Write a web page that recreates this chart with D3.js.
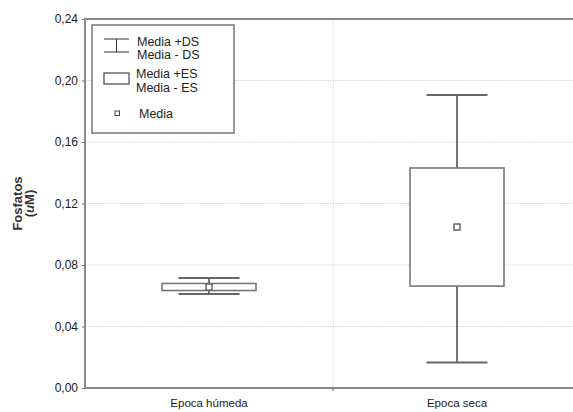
<!DOCTYPE html>
<html>
<head>
<meta charset="utf-8">
<script src="https://cdn.jsdelivr.net/npm/d3@7"></script>
<style>
  body { margin: 0; background: #fff; }
  svg { display: block; font-family: "Liberation Sans", Arial, sans-serif; }
</style>
</head>
<body>
<div id="chart"></div>
<script>
// data
const categories = ['Epoca húmeda', 'Epoca seca'];
const means = [0.0657, 0.1047];
const stdErr = [0.0023, 0.0384];
const stdDevLow = [0.0046, 0.0881];
const stdDevHigh = [0.0058, 0.0859];
const yTicks = [0, 0.04, 0.08, 0.12, 0.16, 0.20, 0.24];

const W = 573, H = 412;
// plot area runs past the right edge of the window, as in the source image
const margin = { top: 19, right: -8, bottom: 24, left: 85 };
const innerW = W - margin.left - margin.right;
const innerH = H - margin.top - margin.bottom;

const svg = d3.select('#chart').append('svg')
    .attr('width', W)
    .attr('height', H);

const g = svg.append('g')
    .attr('transform', `translate(${margin.left},${margin.top})`);

const x = d3.scaleBand().domain(categories).range([0, innerW]);
const y = d3.scaleLinear().domain([0, 0.24]).range([innerH, 0]);

const fmt = d => d3.format('.2f')(d).replace('.', ',');

// grid
g.append('g')
    .selectAll('line')
    .data(yTicks.slice(1, -1))
    .join('line')
    .attr('x1', 0).attr('x2', innerW)
    .attr('y1', d => y(d)).attr('y2', d => y(d))
    .attr('stroke', '#d6d6d6')
    .attr('stroke-dasharray', '1.5,1');

g.append('line')
    .attr('x1', x.bandwidth()).attr('x2', x.bandwidth())
    .attr('y1', 0).attr('y2', innerH)
    .attr('stroke', '#d6d6d6')
    .attr('stroke-dasharray', '1.5,1');

// frame
g.append('rect')
    .attr('x', 0).attr('y', 0)
    .attr('width', innerW).attr('height', innerH)
    .attr('fill', 'none')
    .attr('stroke', '#8a8a8a')
    .attr('stroke-width', 2);

// y axis
const yAxis = g.append('g')
    .call(d3.axisLeft(y).tickValues(yTicks).tickFormat(fmt).tickSize(3).tickPadding(4));
yAxis.select('.domain').remove();
yAxis.selectAll('line').attr('stroke', '#777');
yAxis.selectAll('text')
    .attr('font-size', 12)
    .attr('fill', '#1a1a1a')
    .attr('font-family', '"Liberation Sans", Arial, sans-serif');

// x axis
const xAxis = g.append('g')
    .attr('transform', `translate(0,${innerH})`)
    .call(d3.axisBottom(x).tickSize(0).tickPadding(11));
xAxis.select('.domain').remove();
xAxis.selectAll('text')
    .attr('font-size', 11.5)
    .attr('fill', '#1a1a1a')
    .attr('font-family', '"Liberation Sans", Arial, sans-serif');
g.append('line')
    .attr('x1', x.bandwidth()).attr('x2', x.bandwidth())
    .attr('y1', innerH).attr('y2', innerH + 3)
    .attr('stroke', '#555');

// y title
const yTitle = svg.append('text')
    .attr('transform', `translate(22,${margin.top + innerH / 2}) rotate(-90)`)
    .attr('text-anchor', 'middle')
    .attr('font-size', 13)
    .attr('font-weight', 'bold')
    .attr('fill', '#333');
yTitle.append('tspan').attr('x', 0).attr('dy', 0).text('Fosfatos');
const t2 = yTitle.append('tspan').attr('x', 0).attr('dy', 12);
t2.append('tspan').text('(');
t2.append('tspan').attr('font-style', 'italic').text('u');
t2.append('tspan').text('M)');

// boxes
const boxW = 94, capW = 61, markS = 6;
const data = categories.map((c, i) => ({
    c, m: means[i], es: stdErr[i], lo: stdDevLow[i], hi: stdDevHigh[i]
}));

const items = g.selectAll('.item').data(data).join('g')
    .attr('class', 'item')
    .attr('transform', d => `translate(${x(d.c) + x.bandwidth() / 2},0)`);

items.append('line')
    .attr('x1', 0).attr('x2', 0)
    .attr('y1', d => y(d.m + d.hi)).attr('y2', d => y(d.m - d.lo))
    .attr('stroke', '#444').attr('stroke-width', 1.5);

items.append('line')
    .attr('x1', -capW / 2).attr('x2', capW / 2)
    .attr('y1', d => y(d.m + d.hi)).attr('y2', d => y(d.m + d.hi))
    .attr('stroke', '#666').attr('stroke-width', 2);
items.append('line')
    .attr('x1', -capW / 2).attr('x2', capW / 2)
    .attr('y1', d => y(d.m - d.lo)).attr('y2', d => y(d.m - d.lo))
    .attr('stroke', '#666').attr('stroke-width', 2);

items.append('rect')
    .attr('x', -boxW / 2)
    .attr('width', boxW)
    .attr('y', d => y(d.m + d.es))
    .attr('height', d => y(d.m - d.es) - y(d.m + d.es))
    .attr('fill', '#fff')
    .attr('stroke', '#777')
    .attr('stroke-width', 1.6);

items.append('rect')
    .attr('x', -markS / 2)
    .attr('y', d => y(d.m) - markS / 2)
    .attr('width', markS).attr('height', markS)
    .attr('fill', '#fff')
    .attr('stroke', '#666')
    .attr('stroke-width', 1.5);

// legend
const lg = svg.append('g').attr('transform', 'translate(92,25)');
lg.append('rect')
    .attr('width', 142).attr('height', 108)
    .attr('fill', '#fff')
    .attr('stroke', '#777')
    .attr('stroke-width', 1.5);

// whisker icon
lg.append('line').attr('x1', 12).attr('x2', 37).attr('y1', 14).attr('y2', 14).attr('stroke', '#333');
lg.append('line').attr('x1', 12).attr('x2', 37).attr('y1', 27).attr('y2', 27).attr('stroke', '#333');
lg.append('line').attr('x1', 24.5).attr('x2', 24.5).attr('y1', 14).attr('y2', 27).attr('stroke', '#333');
// box icon
lg.append('rect').attr('x', 12).attr('y', 48).attr('width', 25).attr('height', 11)
    .attr('fill', '#fff').attr('stroke', '#444').attr('stroke-width', 1.2);
// mean icon
lg.append('rect').attr('x', 23).attr('y', 86).attr('width', 4.5).attr('height', 4.5)
    .attr('fill', '#fff').attr('stroke', '#444').attr('stroke-width', 1);

const legendText = [
    { t: 'Media +DS', x: 45, y: 21 },
    { t: 'Media - DS', x: 45, y: 34 },
    { t: 'Media +ES', x: 44, y: 53 },
    { t: 'Media - ES', x: 44, y: 67 },
    { t: 'Media', x: 47, y: 93 }
];
lg.selectAll('.lt').data(legendText).join('text')
    .attr('class', 'lt')
    .attr('x', d => d.x).attr('y', d => d.y)
    .attr('font-size', 12.5)
    .attr('fill', '#222')
    .text(d => d.t);
</script>
</body>
</html>
